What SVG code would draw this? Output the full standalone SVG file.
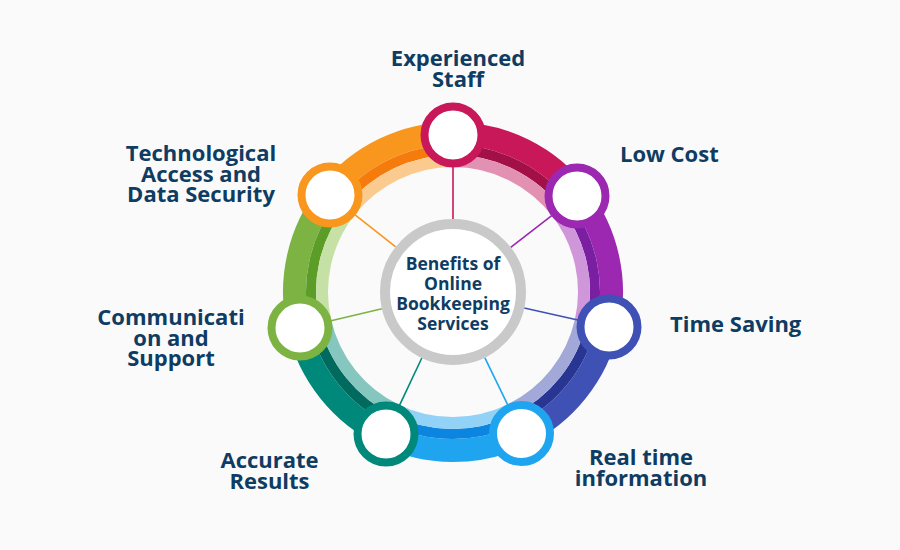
<svg xmlns="http://www.w3.org/2000/svg" width="900" height="550" viewBox="0 0 900 550">
<style>
.lbl{font-family:"Open Sans","Liberation Sans",sans-serif;font-weight:700;font-size:22px;fill:#0f3c62}
.ctr{font-family:"Open Sans","Liberation Sans",sans-serif;font-weight:700;font-size:17.5px;fill:#0f3c62;text-anchor:middle}
.mid{text-anchor:middle}
.seg{fill:none}
.m{stroke-width:23}
.d{stroke-width:10}
.l{stroke-width:12}
.node{fill:#fff;stroke-width:8}
.spoke{stroke-width:1.6}
</style>
<rect width="900" height="550" fill="#fafafa"/>
<g id="ring">
  <g transform="rotate(-90 453 292)">
    <circle class="seg m" cx="453" cy="292" r="158.5" pathLength="360" stroke="#c8185a" stroke-dasharray="53 307"/>
    <circle class="seg d" cx="453" cy="292" r="142" pathLength="360" stroke="#a30f47" stroke-dasharray="53 307"/>
    <circle class="seg l" cx="453" cy="292" r="131" pathLength="360" stroke="#e391b3" stroke-dasharray="53 307"/>
  </g>
  <g transform="rotate(-37.74 453 292)">
    <circle class="seg m" cx="453" cy="292" r="158.5" pathLength="360" stroke="#9c27b0" stroke-dasharray="51 309"/>
    <circle class="seg d" cx="453" cy="292" r="142" pathLength="360" stroke="#7b1fa2" stroke-dasharray="51 309"/>
    <circle class="seg l" cx="453" cy="292" r="131" pathLength="360" stroke="#cf97da" stroke-dasharray="51 309"/>
  </g>
  <g transform="rotate(12.65 453 292)">
    <circle class="seg m" cx="453" cy="292" r="158.5" pathLength="360" stroke="#3f51b5" stroke-dasharray="52 308"/>
    <circle class="seg d" cx="453" cy="292" r="142" pathLength="360" stroke="#283593" stroke-dasharray="52 308"/>
    <circle class="seg l" cx="453" cy="292" r="131" pathLength="360" stroke="#a2a9d9" stroke-dasharray="52 308"/>
  </g>
  <g transform="rotate(64.17 453 292)">
    <circle class="seg m" cx="453" cy="292" r="158.5" pathLength="360" stroke="#1fa5f0" stroke-dasharray="52 308"/>
    <circle class="seg d" cx="453" cy="292" r="142" pathLength="360" stroke="#0b85e0" stroke-dasharray="52 308"/>
    <circle class="seg l" cx="453" cy="292" r="131" pathLength="360" stroke="#91d2f6" stroke-dasharray="52 308"/>
  </g>
  <g transform="rotate(115.26 453 292)">
    <circle class="seg m" cx="453" cy="292" r="158.5" pathLength="360" stroke="#00897b" stroke-dasharray="52 308"/>
    <circle class="seg d" cx="453" cy="292" r="142" pathLength="360" stroke="#006a5e" stroke-dasharray="52 308"/>
    <circle class="seg l" cx="453" cy="292" r="131" pathLength="360" stroke="#85c6be" stroke-dasharray="52 308"/>
  </g>
  <g transform="rotate(166.76 453 292)">
    <circle class="seg m" cx="453" cy="292" r="158.5" pathLength="360" stroke="#7cb342" stroke-dasharray="52 308"/>
    <circle class="seg d" cx="453" cy="292" r="142" pathLength="360" stroke="#5b9d27" stroke-dasharray="52 308"/>
    <circle class="seg l" cx="453" cy="292" r="131" pathLength="360" stroke="#c6e1a6" stroke-dasharray="52 308"/>
  </g>
  <g transform="rotate(218.26 453 292)">
    <circle class="seg m" cx="453" cy="292" r="158.5" pathLength="360" stroke="#f8961e" stroke-dasharray="52 308"/>
    <circle class="seg d" cx="453" cy="292" r="142" pathLength="360" stroke="#f47b0c" stroke-dasharray="52 308"/>
    <circle class="seg l" cx="453" cy="292" r="131" pathLength="360" stroke="#fbca8f" stroke-dasharray="52 308"/>
  </g>
</g>
<g id="connectors">
  <line class="spoke" x1="453" y1="219" x2="453" y2="167" stroke="#c8185a"/>
  <line class="spoke" x1="510.7" y1="247.3" x2="551.7" y2="215.6" stroke="#9c27b0"/>
  <line class="spoke" x1="524.2" y1="308" x2="577.8" y2="320" stroke="#3f51b5"/>
  <line class="spoke" x1="484.8" y1="357.7" x2="507.6" y2="404.7" stroke="#1fa5f0"/>
  <line class="spoke" x1="421.8" y1="358" x2="399.6" y2="405.1" stroke="#00897b"/>
  <line class="spoke" x1="381.9" y1="308.7" x2="331.1" y2="320.7" stroke="#7cb342"/>
  <line class="spoke" x1="395.7" y1="246.8" x2="355.1" y2="214.8" stroke="#f8961e"/>
</g>
<g id="center">
  <circle cx="453" cy="292" r="68" fill="#fff" stroke="#c9c9c9" stroke-width="10"/>
  <text class="ctr" x="453" y="270">Benefits of</text>
  <text class="ctr" x="453" y="290">Online</text>
  <text class="ctr" x="453" y="310">Bookkeeping</text>
  <text class="ctr" x="453" y="330">Services</text>
</g>
<g id="node-staff">
  <circle class="node" cx="453" cy="135" r="28.5" stroke="#c8185a"/>
  <text class="lbl mid" x="458" y="66">Experienced</text>
  <text class="lbl mid" x="458" y="86.5">Staff</text>
</g>
<g id="node-lowcost">
  <circle class="node" cx="577" cy="196" r="28.5" stroke="#9c27b0"/>
  <text class="lbl" x="620" y="162">Low Cost</text>
</g>
<g id="node-timesaving">
  <circle class="node" cx="609" cy="327" r="28.5" stroke="#3f51b5"/>
  <text class="lbl" x="670" y="332">Time Saving</text>
</g>
<g id="node-realtime">
  <circle class="node" cx="521.5" cy="433.5" r="28.5" stroke="#1fa5f0"/>
  <text class="lbl mid" x="641" y="465">Real time</text>
  <text class="lbl mid" x="641" y="485.5">information</text>
</g>
<g id="node-accurate">
  <circle class="node" cx="386" cy="434" r="28.5" stroke="#00897b"/>
  <text class="lbl mid" x="269.5" y="468">Accurate</text>
  <text class="lbl mid" x="269.5" y="488.5">Results</text>
</g>
<g id="node-communication">
  <circle class="node" cx="300" cy="328" r="28.5" stroke="#7cb342"/>
  <text class="lbl mid" x="171" y="325">Communicati</text>
  <text class="lbl mid" x="171" y="345.5">on and</text>
  <text class="lbl mid" x="171" y="366">Support</text>
</g>
<g id="node-tech">
  <circle class="node" cx="330" cy="195" r="28.5" stroke="#f8961e"/>
  <text class="lbl mid" x="201" y="161">Technological</text>
  <text class="lbl mid" x="201" y="181.5">Access and</text>
  <text class="lbl mid" x="201" y="202">Data Security</text>
</g>
</svg>
